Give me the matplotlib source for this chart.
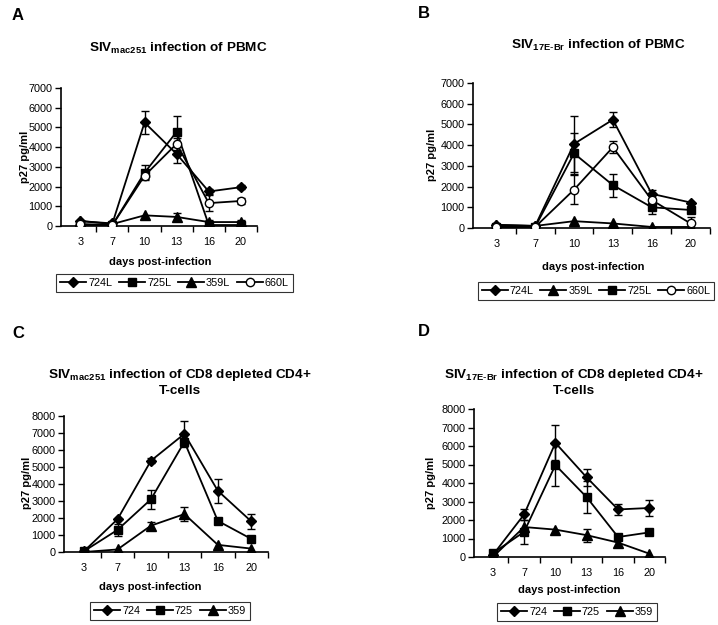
import numpy as np
import matplotlib
matplotlib.use("Agg")
import matplotlib.pyplot as plt

plt.rcParams['font.family'] = ['Liberation Sans', 'DejaVu Sans']
plt.rcParams['mathtext.default'] = 'regular'

days = ['3', '7', '10', '13', '16', '20']

# Panel A: SIVmac251 PBMC
a_724 = [250, 130, 5250, 3650, 1750, 1970]
a_724_err = [0, 0, 580, 450, 150, 100]
a_725 = [50, 50, 2700, 4780, 50, 50]
a_725_err = [0, 0, 380, 780, 0, 0]
a_359 = [250, 100, 540, 460, 200, 200]
a_359_err = [0, 0, 0, 200, 100, 100]
a_660 = [100, 50, 2550, 4170, 1160, 1270]
a_660_err = [0, 0, 150, 300, 400, 150]

# Panel B: SIV17E-Br PBMC
b_724 = [150, 100, 4060, 5230, 1650, 1230]
b_724_err = [0, 0, 1350, 350, 200, 0]
b_359 = [150, 100, 330, 220, 50, 50]
b_359_err = [0, 0, 0, 0, 0, 0]
b_725 = [50, 50, 3600, 2070, 1000, 870]
b_725_err = [0, 0, 1000, 550, 300, 0]
b_660 = [50, 50, 1850, 3900, 1350, 220]
b_660_err = [0, 0, 700, 300, 0, 300]

# Panel C: SIVmac251 CD8-depleted CD4+ T-cells
c_724 = [50, 1930, 5370, 6950, 3600, 1800]
c_724_err = [0, 0, 150, 750, 720, 420]
c_725 = [50, 1300, 3100, 6480, 1830, 770]
c_725_err = [0, 350, 560, 0, 0, 0]
c_359 = [0, 150, 1550, 2230, 420, 200]
c_359_err = [0, 0, 200, 400, 0, 0]

# Panel D: SIV17E-Br CD8-depleted CD4+ T-cells
d_724 = [100, 2300, 6170, 4300, 2570, 2650]
d_724_err = [0, 300, 950, 450, 300, 450]
d_725 = [200, 1360, 4970, 3230, 1080, 1330]
d_725_err = [0, 650, 1150, 870, 0, 0]
d_359 = [0, 1620, 1480, 1180, 780, 180]
d_359_err = [0, 0, 0, 350, 0, 0]

W, H = 718, 625
fig = plt.figure(figsize=(W / 100, H / 100), dpi=100)


def rect(l, r, t, b):
    return [l / W, 1 - b / H, (r - l) / W, (b - t) / H]


def fx(x):
    return x / W


def fy(y):
    return 1 - y / H


styles = {
    'diamond': dict(marker='D', ms=5.0, mfc='black', mec='black'),
    'square': dict(marker='s', ms=6.0, mfc='black', mec='black'),
    'triangle': dict(marker='^', ms=6.5, mfc='black', mec='black'),
    'circle': dict(marker='o', ms=6.0, mfc='white', mec='black', mew=1.0),
}


def panel(r, ymax, series, letter, letter_xy, title, title_xy,
          xlabel_xy, ylabel_xy, leg_xy, ncol):
    ax = fig.add_axes(rect(*r))
    x = np.arange(len(days))
    handles = []
    for label, vals, err, st in series:
        vals = np.array(vals, float)
        err = np.array(err, float)
        idx = err > 0
        if idx.any():
            ax.errorbar(x[idx], vals[idx], yerr=err[idx], fmt='none',
                        ecolor='black', elinewidth=1.0, capsize=3, capthick=1.0,
                        zorder=2)
        ln, = ax.plot(x, vals, color='black', lw=1.3, zorder=3, **st)
        handles.append((ln, label))
    ax.set_xlim(-0.6, 5.5)
    ax.set_ylim(0, ymax)
    ax.set_yticks(np.arange(0, ymax + 1, 1000))
    ax.set_xticks(x)
    ax.set_xticklabels(days)
    ax.set_xticks(np.arange(0.5, 5.6, 1.0), minor=True)
    ax.tick_params(axis='x', which='major', length=0, pad=8, labelsize=7.8)
    ax.tick_params(axis='x', which='minor', length=4, width=1.0, direction='out')
    ax.tick_params(axis='y', which='major', length=4, width=1.0, direction='out',
                   labelsize=7.8, pad=2)
    for s in ['top', 'right']:
        ax.spines[s].set_visible(False)
    for s in ['left', 'bottom']:
        ax.spines[s].set_linewidth(1.2)
    ax.patch.set_alpha(0)

    fig.text(fx(letter_xy[0]), fy(letter_xy[1]), letter, fontsize=12,
             fontweight='bold', ha='left', va='center')
    fig.text(fx(title_xy[0]), fy(title_xy[1]), title, fontsize=9.7,
             fontweight='bold', ha='center', va='center', multialignment='center',
             linespacing=1.3)
    fig.text(fx(xlabel_xy[0]), fy(xlabel_xy[1]), 'days post-infection',
             fontsize=8, fontweight='bold', ha='center', va='center')
    fig.text(fx(ylabel_xy[0]), fy(ylabel_xy[1]), 'p27 pg/ml', fontsize=8,
             fontweight='bold', ha='center', va='center', rotation=90)
    leg = fig.legend([h for h, _ in handles], [l for _, l in handles],
                     loc='center', bbox_to_anchor=(fx(leg_xy[0]), fy(leg_xy[1])),
                     ncol=ncol, fontsize=7.8, frameon=True, fancybox=False,
                     edgecolor='black', handlelength=2.4, handletextpad=0.2,
                     columnspacing=0.6, borderpad=0.35, borderaxespad=0)
    leg.get_frame().set_linewidth(0.8)
    return ax


panel((61, 257, 88, 226), 7000,
      [('724L', a_724, a_724_err, styles['diamond']),
       ('725L', a_725, a_725_err, styles['square']),
       ('359L', a_359, a_359_err, styles['triangle']),
       ('660L', a_660, a_660_err, styles['circle'])],
      'A', (12, 15), r'SIV$_{mac251}$ infection of PBMC', (178, 48),
      (160, 262), (25, 157), (174.5, 283), 4)

panel((473, 710, 83, 228), 7000,
      [('724L', b_724, b_724_err, styles['diamond']),
       ('359L', b_359, b_359_err, styles['triangle']),
       ('725L', b_725, b_725_err, styles['square']),
       ('660L', b_660, b_660_err, styles['circle'])],
      'B', (418, 13), r'SIV$_{17E\text{-}Br}$ infection of PBMC', (598, 45),
      (593, 267), (432, 155), (596, 291), 4)

panel((64, 268, 416, 552), 8000,
      [('724', c_724, c_724_err, styles['diamond']),
       ('725', c_725, c_725_err, styles['square']),
       ('359', c_359, c_359_err, styles['triangle'])],
      'C', (12, 333), 'SIV$_{mac251}$ infection of CD8 depleted CD4+\nT-cells',
      (180, 382), (150, 587), (27, 483), (170, 611), 3)

panel((474, 665, 409, 557), 8000,
      [('724', d_724, d_724_err, styles['diamond']),
       ('725', d_725, d_725_err, styles['square']),
       ('359', d_359, d_359_err, styles['triangle'])],
      'D', (418, 331), 'SIV$_{17E\\text{-}Br}$ infection of CD8 depleted CD4+\nT-cells',
      (574, 382), (569, 590), (431, 483), (577, 612), 3)

fig.savefig('out.png', dpi=100, facecolor='white')
